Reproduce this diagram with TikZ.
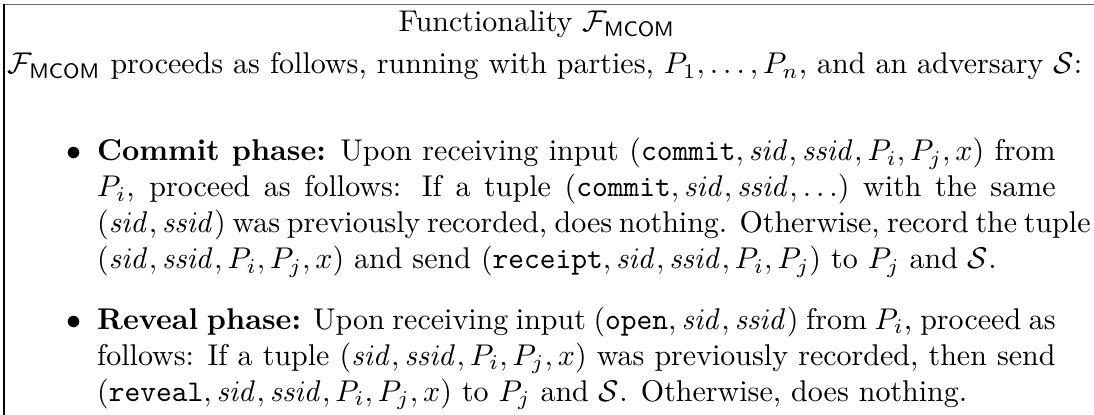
\documentclass[tikz,border=0pt]{standalone}
\usepackage{amsmath}
\tikzset{
  txt/.style={inner sep=0pt, anchor=base west},
  ttl/.style={inner sep=0pt, anchor=base},
  bul/.style={inner sep=0pt, anchor=base},
  frameline/.style={line width=0.5pt},
}
\newcommand{\fmcom}{\mathcal{F}_{\mathsf{MCOM}}}
\newcommand{\jline}[1]{\makebox[319.5pt][s]{#1}}
\newcommand{\sid}{\mathit{sid}}
\newcommand{\ssid}{\mathit{ssid}}
\begin{document}
\begin{tikzpicture}[x=1pt,y=1pt]
  \useasboundingbox (0,0) rectangle (364.7,-138.3);
  % frame (top and left edges)
  \draw[frameline, black!60] (1.33,-1.5) -- (364.7,-1.5);
  \draw[frameline, black] (1.33,-1.5) -- (1.33,-138.3);

  % heading
  \node[ttl] (title) at (179,-10.6) {Functionality $\fmcom$};

  % introduction
  \node[txt] (intro) at (2.4,-24.6) {$\fmcom$ proceeds as follows, running with parties, $P_1,\ldots,P_n$, and an adversary $\mathcal{S}$:};

  % commit phase
  \node[bul] (b1) at (24.6,-53.6) {$\bullet$};
  \node[txt] (c1) at (32.2,-53.6) {\jline{\textbf{Commit phase:} Upon receiving input $(\texttt{commit},\sid,\ssid,P_i,P_j,x)$ from}};
  \node[txt] (c2) at (32.2,-65.6) {\jline{$P_i$, proceed as follows: If a tuple $(\texttt{commit},\sid,\ssid,\ldots)$ with the same}};
  \node[txt] (c3) at (32.2,-77.6) {\jline{$(\sid,\ssid)$ was previously recorded, does nothing. Otherwise, record the tuple}};
  \node[txt] (c4) at (32.2,-89.6) {$(\sid,\ssid,P_i,P_j,x)$ and send $(\texttt{receipt},\sid,\ssid,P_i,P_j)$ to $P_j$ and $\mathcal{S}$.};

  % reveal phase
  \node[bul] (b2) at (24.6,-109.8) {$\bullet$};
  \node[txt] (r1) at (32.2,-109.8) {\jline{\textbf{Reveal phase:} Upon receiving input $(\texttt{open},\sid,\ssid)$ from $P_i$, proceed as}};
  \node[txt] (r2) at (32.2,-121.8) {\jline{follows: If a tuple $(\sid,\ssid,P_i,P_j,x)$ was previously recorded, then send}};
  \node[txt] (r3) at (32.2,-133.8) {$(\texttt{reveal},\sid,\ssid,P_i,P_j,x)$ to $P_j$ and $\mathcal{S}$. Otherwise, does nothing.};
\end{tikzpicture}
\end{document}
